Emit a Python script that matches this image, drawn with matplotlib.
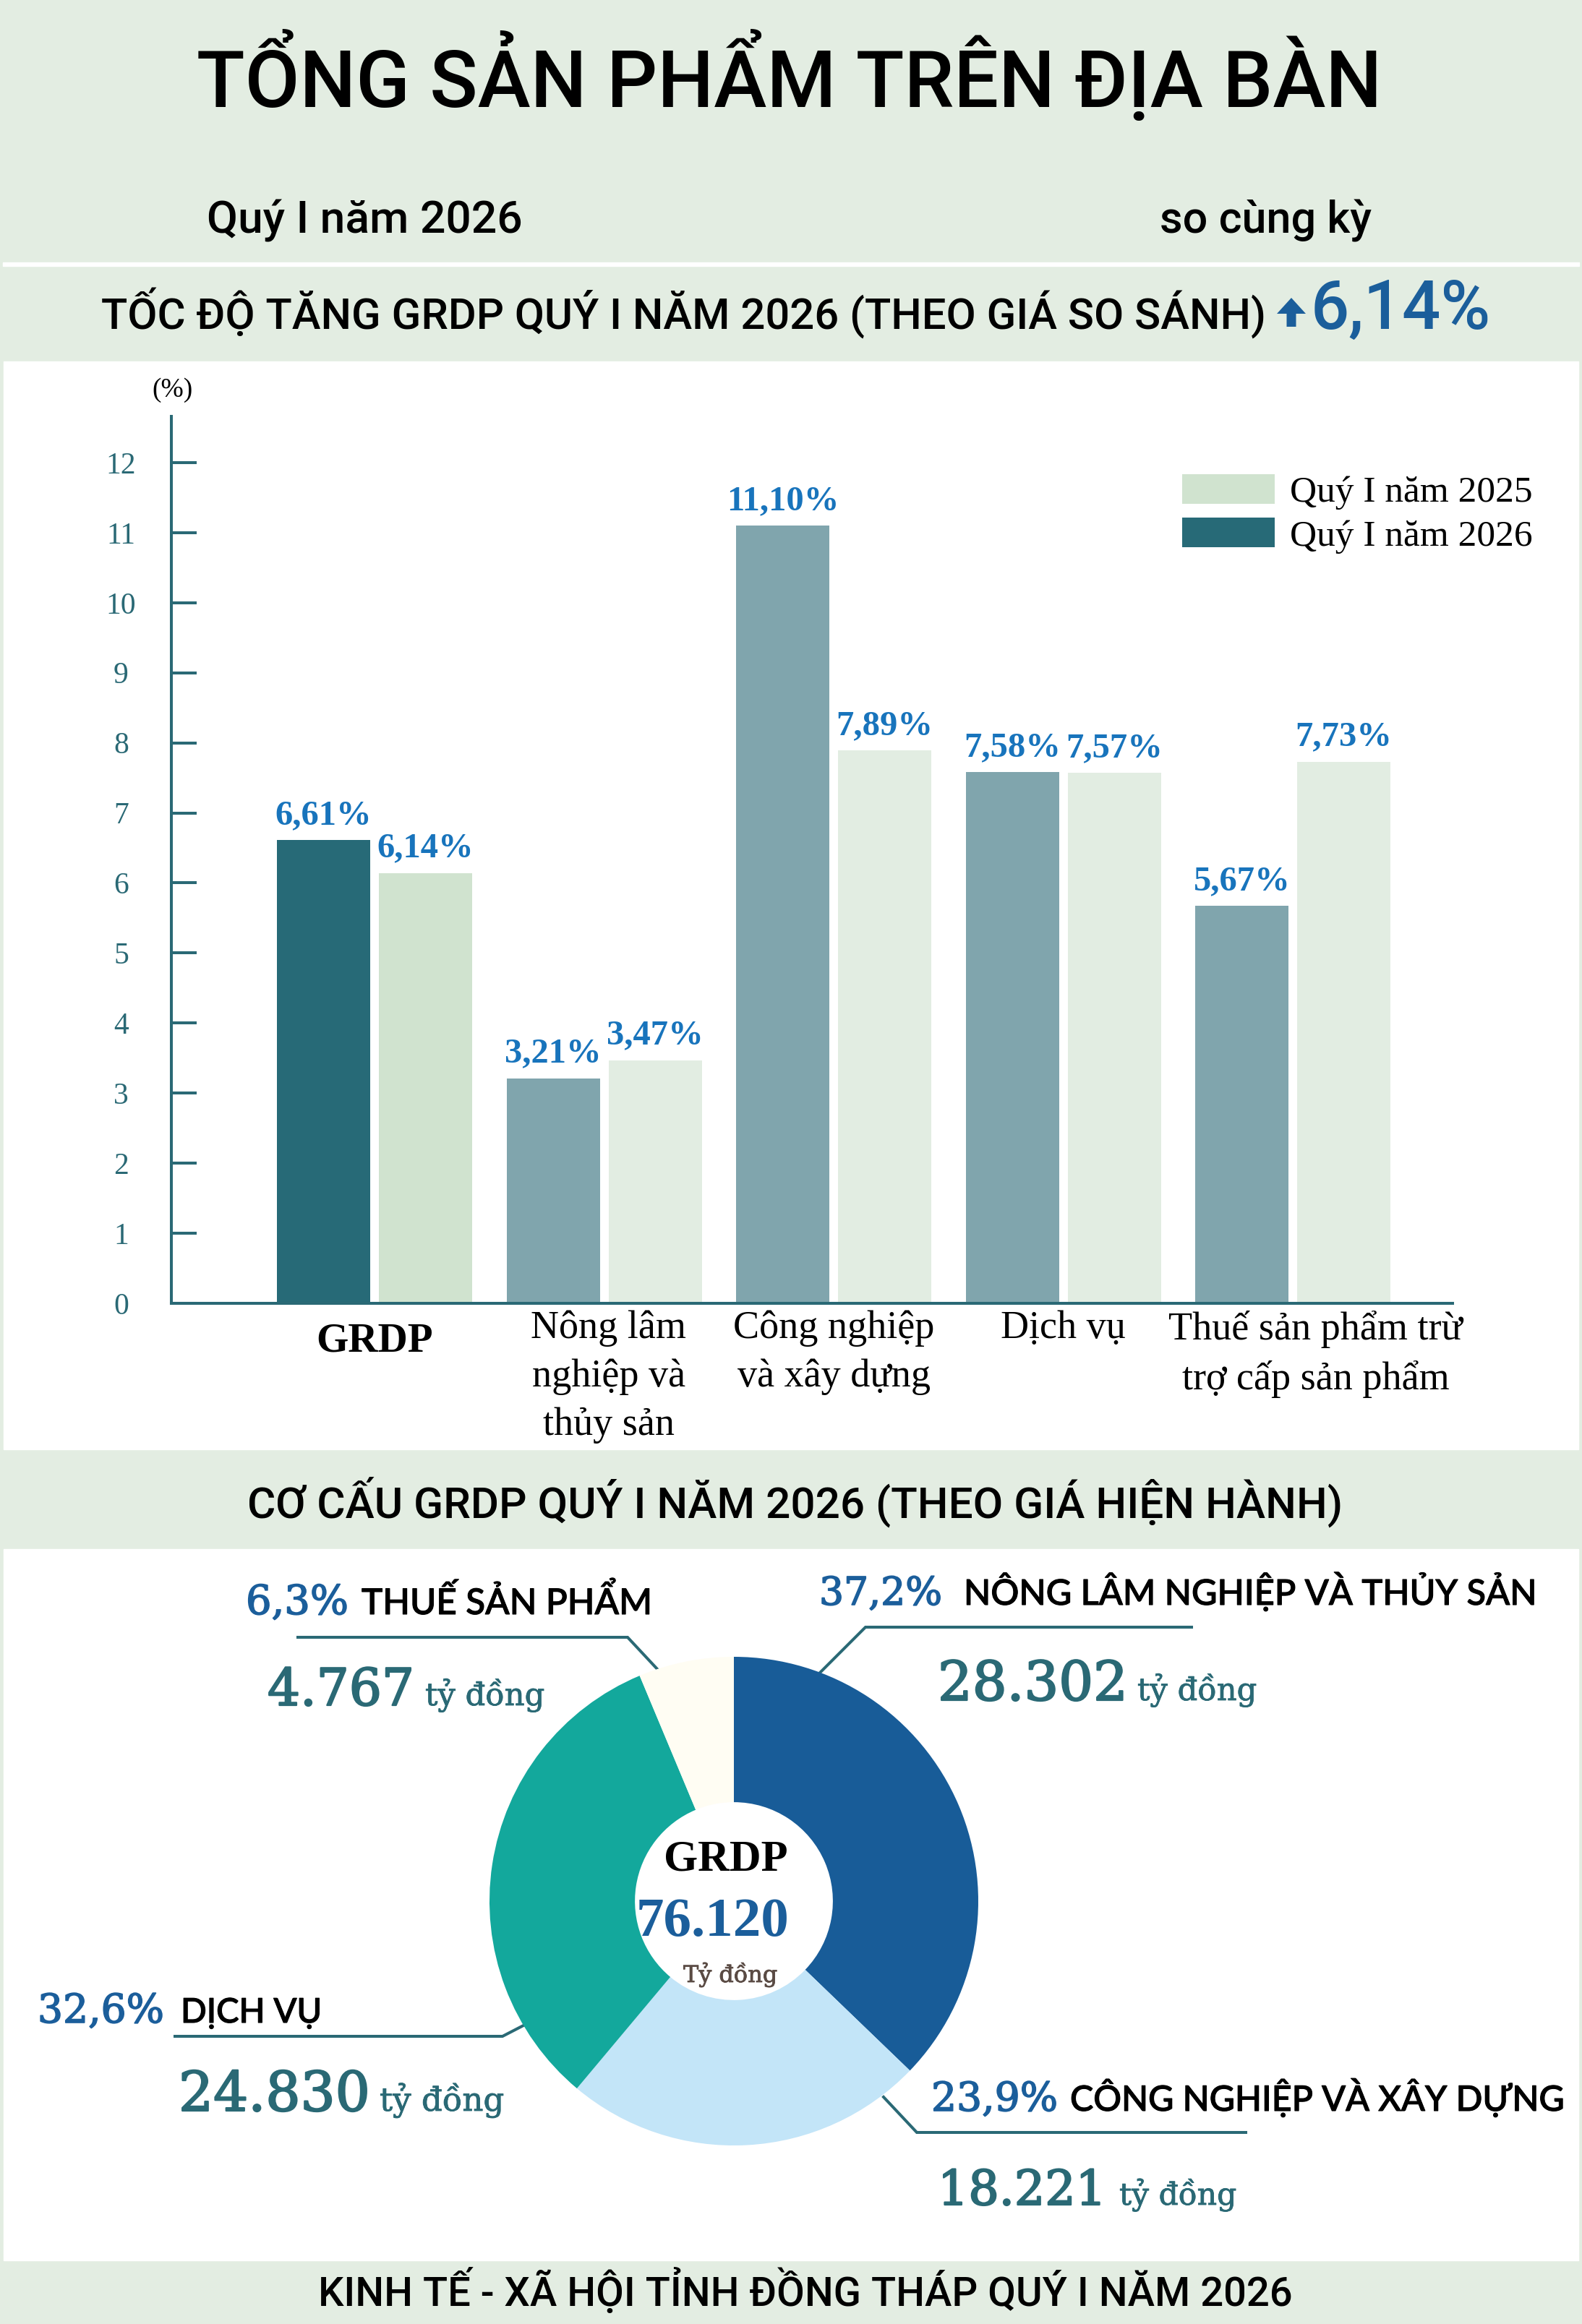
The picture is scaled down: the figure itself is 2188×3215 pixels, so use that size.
import matplotlib
matplotlib.use("Agg")
import matplotlib.pyplot as plt
import matplotlib.patheffects as pe
from matplotlib.patches import Rectangle, FancyArrow
from matplotlib.font_manager import FontProperties

# ---- data ----
categories = ["GRDP", "Nông lâm\nnghiệp và\nthủy sản", "Công nghiệp\nvà xây dựng",
              "Dịch vụ", "Thuế sản phẩm trừ\ntrợ cấp sản phẩm"]
growth_dark = [6.61, 3.21, 11.10, 7.58, 5.67]    # legend: Quý I năm 2026
growth_light = [6.14, 3.47, 7.89, 7.57, 7.73]    # legend: Quý I năm 2025
yticks = list(range(13))

sectors = ["NÔNG LÂM NGHIỆP VÀ THỦY SẢN", "CÔNG NGHIỆP VÀ XÂY DỰNG", "DỊCH VỤ", "THUẾ SẢN PHẨM"]
shares = [37.2, 23.9, 32.6, 6.3]
values_bn = ["28.302", "18.221", "24.830", "4.767"]
total_bn = "76.120"
grdp_growth = "6,14%"

# ---- colours / fonts ----
GREEN_BG = "#E3EDE2"
TEAL = "#2A6975"
BLUE_LBL = "#1874BC"
BLUE_PCT = "#1B5E9B"
dark_cols = ["#276A77"] + ["#80A5AD"] * 4
light_cols = ["#D0E3CF"] + ["#E2EDE2"] * 4
pie_cols = ["#185C98", "#C3E5F8", "#13A89C", "#FFFDF3"]

HEAD = ["Roboto", "DejaVu Sans"]
SERIF = ["Liberation Serif", "DejaVu Serif"]
NUMF = ["DejaVu Serif"]
CAPS = ["Lato", "DejaVu Sans"]

W, H = 2188, 3215
fig = plt.figure(figsize=(W / 100, H / 100), dpi=100)
R = fig.canvas.get_renderer()


def frac(l, t, r, b):
    return [l / W, 1 - b / H, (r - l) / W, (b - t) / H]


# background axes in pixel units (y down)
bg = fig.add_axes([0, 0, 1, 1])
bg.set_xlim(0, W)
bg.set_ylim(H, 0)
bg.axis("off")
bg.add_patch(Rectangle((0, 0), W, H, color=GREEN_BG, zorder=0))
bg.add_patch(Rectangle((5, 500), W - 10, 1505, color="white", zorder=0))
bg.add_patch(Rectangle((5, 2143), W - 10, 984, color="white", zorder=0))
bg.add_patch(Rectangle((4, 363), W - 8, 5, color="white", zorder=0))


def put(x, y, s, w, size=40, ha="left", **kw):
    t = bg.text(x, y, s, fontsize=size, ha=ha, va="baseline", **kw)
    bw = t.get_window_extent(R).width
    t.set_fontsize(size * w / bw)
    return t


# ---- header ----
put(272, 148, "TỔNG SẢN PHẨM TRÊN ĐỊA BÀN", 1639, family=HEAD, fontweight="medium", color="black")
put(286, 322, "Quý I năm 2026", 437, family=HEAD, fontweight="medium", color="black")
put(1604, 322, "so cùng kỳ", 293, family=HEAD, fontweight="medium", color="black")
put(140, 455, "TỐC ĐỘ TĂNG GRDP QUÝ I NĂM 2026 (THEO GIÁ SO SÁNH)", 1611,
    family=HEAD, fontweight="medium", color="black")
bg.add_patch(FancyArrow(1786, 452, 0, -40, width=13, head_width=40, head_length=22,
                        length_includes_head=True, color=BLUE_PCT, lw=0))
put(1813, 455, grdp_growth, 249, family=HEAD, fontweight="medium", color=BLUE_PCT)

# ---- bar chart ----
ax = fig.add_axes(frac(237, 576, 2009, 1803))
ax.set_facecolor("none")
step = 317.5
bw = 129 / step
off = 141 / 2 / step
x = list(range(len(categories)))
b_dark = ax.bar([i - off for i in x], growth_dark, width=bw, color=dark_cols, lw=0)
b_light = ax.bar([i + off for i in x], growth_light, width=bw, color=light_cols, lw=0)
ax.set_xlim((237 - 518) / step, (2009 - 518) / step)
ax.set_ylim(0, 12.66)
for s in ["top", "right"]:
    ax.spines[s].set_visible(False)
for s in ["left", "bottom"]:
    ax.spines[s].set_color(TEAL)
    ax.spines[s].set_linewidth(2.9)
ax.set_xticks([])
ax.set_yticks(yticks)
ax.set_yticklabels([str(t) for t in yticks], family=SERIF)
ax.tick_params(axis="y", direction="in", length=25, width=2.9, color=TEAL,
               labelcolor=TEAL, labelsize=30, pad=50)
for lab in ax.get_yticklabels():
    lab.set_ha("center")

for bars, vals in [(b_dark, growth_dark), (b_light, growth_light)]:
    for bar, v in zip(bars, vals):
        ax.annotate(f"{v:.2f}".replace(".", ",") + "%",
                    xy=(bar.get_x() + bar.get_width() / 2, v), xytext=(0, 16),
                    textcoords="offset points", ha="center", va="baseline",
                    family=SERIF, fontweight="bold", fontsize=35, color=BLUE_LBL)

label_nudge = [0, 0.02, 0, 0, 0.1]
for i, c in enumerate(categories):
    if i == 0:
        ax.text(i, -0.022, c, transform=ax.get_xaxis_transform(), ha="center", va="top",
                family=SERIF, fontweight="bold", fontsize=41, color="black")
    else:
        ax.text(i + label_nudge[i], -0.008, c, transform=ax.get_xaxis_transform(),
                ha="center", va="top", multialignment="center", linespacing=1.42,
                family=SERIF, fontsize=39, color="black")

bg.text(239, 540, "(%)", ha="center", va="center", family=SERIF, fontsize=27, color="black")

ax.legend([b_light, b_dark], ["Quý I năm 2025", "Quý I năm 2026"], loc="upper left",
          bbox_to_anchor=(1635 / W, 1 - 656 / H), bbox_transform=fig.transFigure,
          frameon=False, prop=FontProperties(family=SERIF, size=37),
          handlelength=2.5, handleheight=0.84, handletextpad=0.4,
          labelspacing=0.22, borderpad=0, borderaxespad=0)

# ---- structure section ----
put(342, 2100, "CƠ CẤU GRDP QUÝ I NĂM 2026 (THEO GIÁ HIỆN HÀNH)", 1513,
    family=HEAD, fontweight="medium", color="black")

pax = fig.add_axes(frac(677, 2292, 1353, 2968))
pax.pie(shares, colors=pie_cols, startangle=90, counterclock=False, radius=1,
        wedgeprops=dict(width=0.595, linewidth=0))
pax.set_xlim(-1, 1)
pax.set_ylim(-1, 1)
pax.set_aspect("equal")

# label layout: (pct x, y, w), (name x, w), (value x, y, w), (unit x, w), leader
layout = [
    ((1133, 2220, 170), (1333, 792), (1297, 2352, 263), (1573, 165),
     [(1648, 2251), (1197, 2251), (1133, 2315)]),
    ((1288, 2920, 175), (1480, 683), (1297, 3050, 233), (1548, 162),
     [(1222, 2901), (1268, 2950), (1723, 2950)]),
    ((52, 2798, 175), (250, 195), (247, 2920, 265), (525, 172),
     [(242, 2817), (695, 2817), (724, 2802)]),
    ((340, 2233, 142), (500, 402), (370, 2359, 203), (588, 165),
     [(412, 2265), (868, 2265), (910, 2310)]),
]
for name, sh, val, (p, n, v, u, lead) in zip(sectors, shares, values_bn, layout):
    put(p[0], p[1], f"{sh:.1f}".replace(".", ",") + "%", p[2], family=NUMF, color=BLUE_PCT,
        path_effects=[pe.withStroke(linewidth=1.2, foreground=BLUE_PCT)])
    put(n[0], p[1], name, n[1], family=CAPS, fontweight="medium", color="black",
        path_effects=[pe.withStroke(linewidth=0.8, foreground="black")])
    put(v[0], v[1], val, v[2], family=NUMF, color=TEAL,
        path_effects=[pe.withStroke(linewidth=1.6, foreground=TEAL)])
    put(u[0], v[1], "tỷ đồng", u[1], family=NUMF, color=TEAL,
        path_effects=[pe.withStroke(linewidth=0.6, foreground=TEAL)])
    bg.plot([q[0] for q in lead], [q[1] for q in lead], color=TEAL, lw=2.9,
            solid_joinstyle="miter", zorder=3)

put(1004, 2588, "GRDP", 172, ha="center", family=SERIF, fontweight="bold", color="black")
put(986, 2678, total_bn, 212, ha="center", family=SERIF, fontweight="bold", color=BLUE_PCT)
put(1010, 2742, "Tỷ đồng", 130, ha="center", family=NUMF, color="#5A4B44",
    path_effects=[pe.withStroke(linewidth=0.6, foreground="#5A4B44")])

# ---- footer ----
put(440, 3190, "KINH TẾ - XÃ HỘI TỈNH ĐỒNG THÁP QUÝ I NĂM 2026", 1346,
    family=HEAD, fontweight="medium", color="black")

fig.savefig("out.png", dpi=100)
